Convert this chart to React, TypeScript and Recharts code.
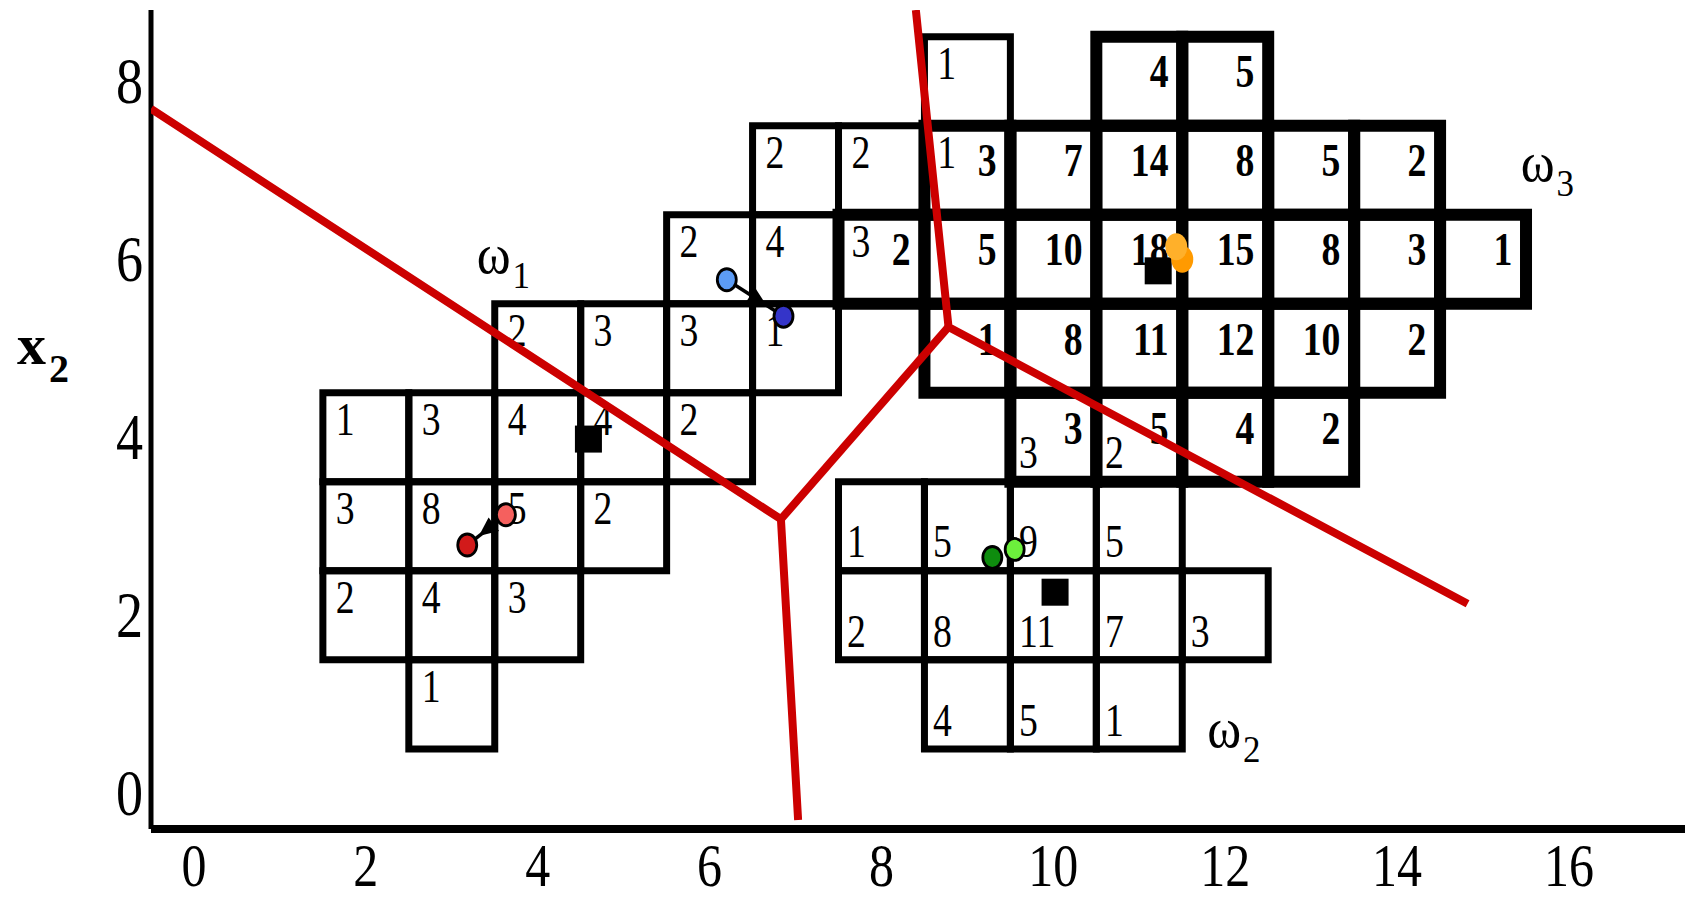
import React from 'react';
import { ScatterChart, XAxis, YAxis, ReferenceArea, Scatter } from 'recharts';

// Histogram bins: [bin centre x1, bin centre x2, count]
type Bin = [number, number, number];

const omega1Bins: Bin[] = [
  [9, 8, 1],
  [7, 7, 2], [8, 7, 2], [9, 7, 1],
  [6, 6, 2], [7, 6, 4], [8, 6, 3],
  [4, 5, 2], [5, 5, 3], [6, 5, 3], [7, 5, 1],
  [2, 4, 1], [3, 4, 3], [4, 4, 4], [5, 4, 4], [6, 4, 2],
  [2, 3, 3], [3, 3, 8], [4, 3, 5], [5, 3, 2],
  [2, 2, 2], [3, 2, 4], [4, 2, 3],
  [3, 1, 1],
];

const omega2Bins: Bin[] = [
  [10, 4, 3], [11, 4, 2],
  [8, 3, 1], [9, 3, 5], [10, 3, 9], [11, 3, 5],
  [8, 2, 2], [9, 2, 8], [10, 2, 11], [11, 2, 7], [12, 2, 3],
  [9, 1, 4], [10, 1, 5], [11, 1, 1],
];

const omega3Bins: Bin[] = [
  [11, 8, 4], [12, 8, 5],
  [9, 7, 3], [10, 7, 7], [11, 7, 14], [12, 7, 8], [13, 7, 5], [14, 7, 2],
  [8, 6, 2], [9, 6, 5], [10, 6, 10], [11, 6, 18], [12, 6, 15], [13, 6, 8], [14, 6, 3], [15, 6, 1],
  [9, 5, 1], [10, 5, 8], [11, 5, 11], [12, 5, 12], [13, 5, 10], [14, 5, 2],
  [10, 4, 3], [11, 4, 5], [12, 4, 4], [13, 4, 2],
];

const xTicks = [0, 2, 4, 6, 8, 10, 12, 14, 16];
const yTicks = [0, 2, 4, 6, 8];

// Decision boundaries between the three classes
const boundaryWest = [{ x: -0.5, y: 7.69 }, { x: 6.83, y: 3.08 }, { x: 7.03, y: -0.3 }];
const boundaryCentre = [{ x: 6.83, y: 3.08 }, { x: 8.78, y: 5.24 }];
const boundaryEast = [{ x: 8.4, y: 8.8 }, { x: 8.78, y: 5.24 }, { x: 14.82, y: 2.13 }];

// True class means
const classMeans = [{ x: 4.59, y: 3.98 }, { x: 10.02, y: 2.26 }, { x: 11.22, y: 5.87 }];

// Cluster centres: initial and final positions
const clusterStart = [
  { x: 3.63, y: 3.13 }, { x: 6.2, y: 5.77 }, { x: 9.55, y: 2.74 }, { x: 11.43, y: 6.14 },
];
const clusterEnd = [
  { x: 3.18, y: 2.79 }, { x: 6.86, y: 5.36 }, { x: 9.29, y: 2.65 }, { x: 11.5, y: 6.0 },
];
const arrowTracks = [0, 1];

const classLabels = [
  { x: 3.29, y: 5.85, sub: '1' },
  { x: 11.79, y: 0.52, sub: '2' },
  { x: 15.44, y: 6.88, sub: '3' },
];

const startFill = ['#f5605e', '#5c9cf6', '#6cf03c', '#ffb02a'];
const endFill = ['#d21a1a', '#3434c9', '#0e8c0e', '#ff9a00'];
const outlined = [true, true, true, false];

const FONT = "'Liberation Serif', 'Times New Roman', Times, serif";
const SQUEEZE = 0.82;
const RED = '#cc0000';

const countLabels = [
  ...omega1Bins.map(([x, y, n]) => ({ x: x - 0.35, y: y + 0.03, n, kind: 1 })),
  ...omega2Bins.map(([x, y, n]) => ({ x: x - 0.4, y: y - 0.35, n, kind: 2 })),
  ...omega3Bins.map(([x, y, n]) => ({ x: x + 0.34, y: y - 0.07, n, kind: 3 })),
];

const none = () => <g />;

function CountText(props: any) {
  const { cx, cy } = props;
  const d = props.payload ?? props;
  const bold = d.kind === 3;
  return (
    <text
      transform={`translate(${cx},${cy}) scale(${SQUEEZE},1)`}
      textAnchor={bold ? 'end' : 'start'}
      fontFamily={FONT}
      fontSize={46}
      fontWeight={bold ? 700 : 400}
      fill="#000"
    >
      {d.n}
    </text>
  );
}

function ClassLabel(props: any) {
  const { cx, cy } = props;
  const d = props.payload ?? props;
  return (
    <text transform={`translate(${cx},${cy}) scale(0.92,1)`} fontFamily={FONT} fontSize={56} fill="#000">
      ω
      <tspan fontSize={38} dx={2} dy={15}>
        {d.sub}
      </tspan>
    </text>
  );
}

function MeanSquare(props: any) {
  const { cx, cy } = props;
  return <rect x={cx - 13.5} y={cy - 13.5} width={27} height={27} fill="#000" />;
}

function makeDot(fills: string[]) {
  return (props: any) => {
    const { cx, cy } = props;
    const d = props.payload ?? props;
    const i = d.i as number;
    return (
      <ellipse
        cx={cx}
        cy={cy}
        rx={outlined[i] ? 9.5 : 11}
        ry={outlined[i] ? 11 : 13.5}
        fill={fills[i]}
        stroke={outlined[i] ? '#000' : 'none'}
        strokeWidth={2.8}
      />
    );
  };
}

function boundaryPath(props: any) {
  const pts: { x: number; y: number }[] = props.points || [];
  const d = pts.map((p, i) => `${i ? 'L' : 'M'}${p.x},${p.y}`).join(' ');
  return <path d={d} fill="none" stroke={RED} strokeWidth={8} strokeLinejoin="round" />;
}

function arrowPath(props: any) {
  const pts: { x: number; y: number }[] = props.points || [];
  if (pts.length < 2) return <g />;
  const [a, b] = pts;
  const dx = b.x - a.x;
  const dy = b.y - a.y;
  const len = Math.hypot(dx, dy) || 1;
  const ux = dx / len;
  const uy = dy / len;
  const tipX = a.x + dx * 0.7;
  const tipY = a.y + dy * 0.7;
  const baseX = tipX - ux * 19;
  const baseY = tipY - uy * 19;
  const head = `${tipX},${tipY} ${baseX - uy * 8.5},${baseY + ux * 8.5} ${baseX + uy * 8.5},${baseY - ux * 8.5}`;
  return (
    <g>
      <path d={`M${a.x},${a.y} L${b.x},${b.y}`} stroke="#000" strokeWidth={3.5} fill="none" />
      <polygon points={head} fill="#000" />
    </g>
  );
}

const XTick = (props: any) => (
  <text
    transform={`translate(${props.x},${props.y + 57}) scale(${SQUEEZE},1)`}
    textAnchor="middle"
    fontFamily={FONT}
    fontSize={61}
    fill="#000"
  >
    {props.payload.value}
  </text>
);

const YTick = (props: any) => (
  <text
    transform={`translate(${props.x - 8},${props.y + 22}) scale(${SQUEEZE},1)`}
    textAnchor="end"
    fontFamily={FONT}
    fontSize={66}
    fill="#000"
  >
    {props.payload.value}
  </text>
);

const AxisTitle = () => (
  <text x={17} y={364} fontFamily={FONT} fontWeight={700} fontSize={58} fill="#000">
    x
    <tspan fontSize={40} dx={3} dy={18}>
      2
    </tspan>
  </text>
);

const binRect = (bins: Bin[], width: number, prefix: string) =>
  bins.map(([x, y], i) => (
    <ReferenceArea
      key={`${prefix}${i}`}
      x1={x - 0.5}
      x2={x + 0.5}
      y1={y - 0.5}
      y2={y + 0.5}
      fill="none"
      fillOpacity={0}
      stroke="#000"
      strokeWidth={width}
      ifOverflow="visible"
    />
  ));

export default function App() {
  return (
    <div style={{ position: 'absolute', left: 0, top: 0, width: 1685, height: 901, background: '#fff' }}>
      <ScatterChart width={1685} height={901} margin={{ top: 10, right: 0, bottom: 0, left: 0 }}>
        <XAxis
          type="number"
          dataKey="x"
          domain={[-0.5, 17.35]}
          allowDataOverflow
          ticks={xTicks}
          interval={0}
          tick={XTick}
          tickLine={false}
          tickSize={0}
          tickMargin={0}
          height={72}
          axisLine={{ stroke: '#000', strokeWidth: 8 }}
        />
        <YAxis
          type="number"
          dataKey="y"
          domain={[-0.4, 8.8]}
          allowDataOverflow
          ticks={yTicks}
          interval={0}
          tick={YTick}
          tickLine={false}
          tickSize={0}
          tickMargin={0}
          width={151}
          axisLine={{ stroke: '#000', strokeWidth: 5 }}
          label={AxisTitle}
        />

        {binRect(omega1Bins, 7, 'w1-')}
        {binRect(omega2Bins, 7, 'w2-')}
        {binRect(omega3Bins, 12, 'w3-')}

        <Scatter data={countLabels} shape={CountText} isAnimationActive={false} />
        <Scatter data={classLabels} shape={ClassLabel} isAnimationActive={false} />

        <Scatter data={boundaryWest} shape={none} line={boundaryPath} isAnimationActive={false} />
        <Scatter data={boundaryCentre} shape={none} line={boundaryPath} isAnimationActive={false} />
        <Scatter data={boundaryEast} shape={none} line={boundaryPath} isAnimationActive={false} />

        <Scatter data={classMeans} shape={MeanSquare} isAnimationActive={false} />

        {arrowTracks.map((i) => (
          <Scatter
            key={`track${i}`}
            data={[clusterStart[i], clusterEnd[i]]}
            shape={none}
            line={arrowPath}
            isAnimationActive={false}
          />
        ))}

        <Scatter data={clusterEnd.map((p, i) => ({ ...p, i }))} shape={makeDot(endFill)} isAnimationActive={false} />
        <Scatter data={clusterStart.map((p, i) => ({ ...p, i }))} shape={makeDot(startFill)} isAnimationActive={false} />
      </ScatterChart>
    </div>
  );
}
